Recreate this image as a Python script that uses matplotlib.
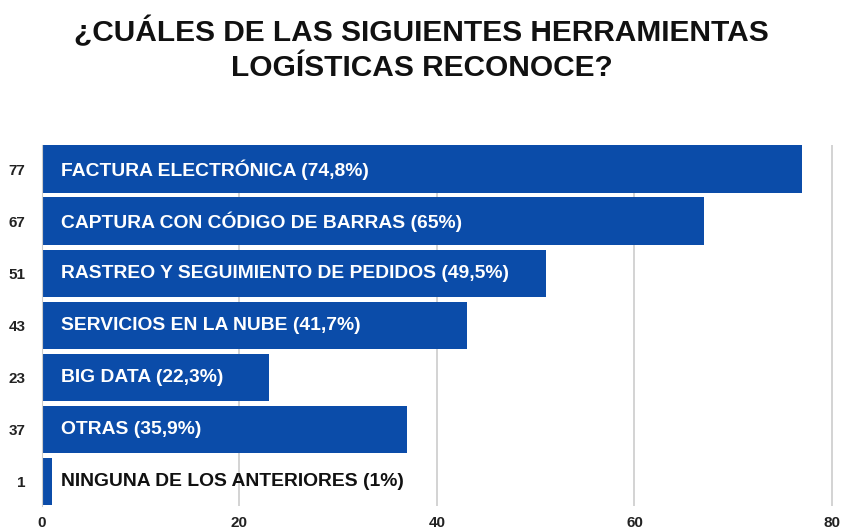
import matplotlib.pyplot as plt

# Data
labels = [
    'FACTURA ELECTRÓNICA (74,8%)',
    'CAPTURA CON CÓDIGO DE BARRAS (65%)',
    'RASTREO Y SEGUIMIENTO DE PEDIDOS (49,5%)',
    'SERVICIOS EN LA NUBE (41,7%)',
    'BIG DATA (22,3%)',
    'OTRAS (35,9%)',
    'NINGUNA DE LOS ANTERIORES (1%)',
]
counts = [77, 67, 51, 43, 23, 37, 1]
x_ticks = [0, 20, 40, 60, 80]

plt.rcParams['font.family'] = ['Liberation Sans', 'DejaVu Sans']

fig = plt.figure(figsize=(8.43, 5.29), dpi=100)
ax = fig.add_axes([0.0498, 0.0435, 0.9395, 0.6825])

bar_color = '#0b4ca9'
pos = list(range(len(counts)))
ax.barh(pos, counts, height=0.92, color=bar_color, zorder=2)

# labels written inside the bars (black when the bar is too short)
for i, (lab, c) in enumerate(zip(labels, counts)):
    col = 'white' if c > 10 else '#111111'
    ax.text(1.9, i, lab, va='center', ha='left', fontsize=13.9,
            fontweight='bold', color=col, zorder=3)

ax.set_xlim(0, 80.2)
ax.set_ylim(len(counts) - 0.53, -0.47)
ax.set_xticks(x_ticks)
ax.set_xticklabels([str(t) for t in x_ticks], fontsize=11, fontweight='bold', color='#222222')
ax.set_yticks(pos)
ax.set_yticklabels([str(c) for c in counts], fontsize=11, fontweight='bold', color='#222222')
ax.tick_params(axis='both', length=0)
ax.tick_params(axis='x', pad=7)
ax.tick_params(axis='y', pad=12)

ax.grid(axis='x', color='#cccccc', linewidth=1.2)
ax.set_axisbelow(True)
for s in ['top', 'right', 'bottom']:
    ax.spines[s].set_visible(False)
ax.spines['left'].set_color('#cccccc')

fig.text(0.5, 0.907, '¿CUÁLES DE LAS SIGUIENTES HERRAMIENTAS\nLOGÍSTICAS RECONOCE?',
         ha='center', va='center', fontsize=21.5, fontweight='bold',
         color='#111111', linespacing=1.32)

fig.savefig('out.png', dpi=100)
